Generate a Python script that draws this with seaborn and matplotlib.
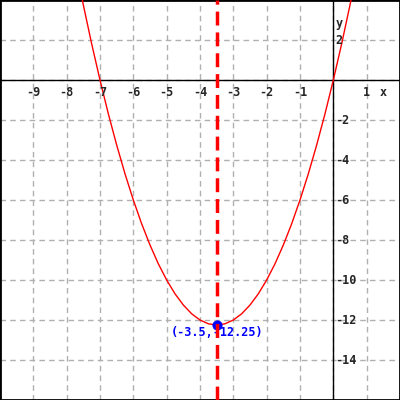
import seaborn as sns
import matplotlib.pyplot as plt
import pandas as pd

# points
curve_x = [-8, -7.75, -7.5, -7.25, -7, -6.75, -6.5, -6.25, -6, -5.75, -5.5, -5.25, -5, -4.75, -4.5, -4.25,
           -4, -3.75, -3.5, -3.25, -3, -2.75, -2.5, -2.25, -2, -1.75, -1.5, -1.25, -1, -0.75, -0.5, -0.25,
           0, 0.25, 0.5, 0.75, 1]
curve_y = [8, 5.81, 3.75, 1.81, 0, -1.69, -3.25, -4.69, -6, -7.19, -8.25, -9.19, -10, -10.69, -11.25, -11.69,
           -12, -12.19, -12.25, -12.19, -12, -11.69, -11.25, -10.69, -10, -9.19, -8.25, -7.19, -6, -4.69, -3.25, -1.69,
           0, 1.81, 3.75, 5.81, 8]
vertex_x = [-3.5]
vertex_y = [-12.25]
vertex_label = "(-3.5,-12.25)"
x_ticks = [-9, -8, -7, -6, -5, -4, -3, -2, -1, 1]
y_ticks = [2, -2, -4, -6, -8, -10, -12, -14]

sns.set_style("white")
plt.rcParams['font.family'] = ['DejaVu Sans Mono']

df = pd.DataFrame({"x": curve_x, "y": curve_y})

fig = plt.figure(figsize=(4, 4), dpi=100)
ax = fig.add_axes([0, 0, 1, 1])
ax.set_xlim(-10, 2)
ax.set_ylim(-16, 4)

# grid
for gx in range(-9, 2):
    ax.axvline(gx, color="#b0b0b0", lw=1, ls=(0, (4, 3)), zorder=0)
for gy in range(-14, 4, 2):
    ax.axhline(gy, color="#b0b0b0", lw=1, ls=(0, (4, 3)), zorder=0)

ax.axhline(0, color="black", lw=1, zorder=1)
ax.axvline(0, color="black", lw=1, zorder=1)

sns.lineplot(data=df, x="x", y="y", sort=False, color="red", lw=1, ax=ax, zorder=3)
sns.scatterplot(x=vertex_x, y=vertex_y, color="blue", s=45, edgecolor="blue", ax=ax, zorder=4)

txt = dict(fontsize=8.5, fontweight="bold", va="center")
ax.text(vertex_x[0], vertex_y[0] - 0.4, vertex_label, color="blue", ha="center", zorder=4, **txt)

# axis of symmetry
ax.axvline(vertex_x[0], color="red", lw=2.5, ls=(0, (4, 2)), zorder=5)

for t in x_ticks:
    ax.text(t, -0.65, str(t), ha="center", **txt)
ax.text(1.5, -0.65, "x", ha="center", **txt)
for t in y_ticks:
    ax.text(0.07, t, str(t), ha="left", **txt)
ax.text(0.07, 2.85, "y", ha="left", **txt)

ax.set_xticks([])
ax.set_yticks([])
ax.set_xlabel("")
ax.set_ylabel("")
for s in ax.spines.values():
    s.set_color("black")
    s.set_linewidth(2)

plt.savefig("out.png", dpi=100)
